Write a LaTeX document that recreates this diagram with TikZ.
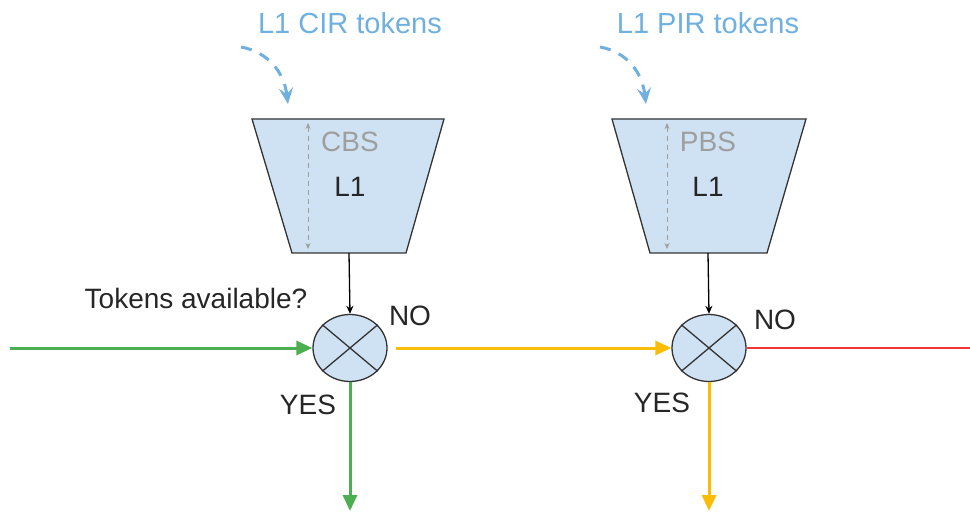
\documentclass[tikz,border=0pt]{standalone}
\usepackage{fontspec}
\setmainfont{Liberation Sans}
\usetikzlibrary{shapes.geometric,arrows.meta}
\definecolor{boxfill}{HTML}{CFE2F3}
\definecolor{tokblue}{HTML}{6FB0E0}
\definecolor{okgreen}{HTML}{4CAF50}
\definecolor{warnyel}{HTML}{FBBC04}
\definecolor{badred}{HTML}{F4333A}
\definecolor{bsgray}{HTML}{9E9E9E}
\tikzset{
  bucket/.style={draw=black!80, line width=1.3pt, fill=boxfill, line join=miter},
  meter/.style={ellipse, draw=black!80, line width=1.3pt, fill=boxfill, minimum width=74pt, minimum height=67pt, inner sep=0pt},
  lbl/.style={font=\fontsize{28}{32}\selectfont, text=black!85, inner sep=0pt},
  toklbl/.style={font=\fontsize{29}{33}\selectfont, text=tokblue, inner sep=0pt},
  bslbl/.style={font=\fontsize{28}{32}\selectfont, text=bsgray, inner sep=0pt},
  tokarrow/.style={draw=tokblue, line width=3pt, dash pattern=on 11pt off 9pt, -{Stealth[length=16pt,width=14pt,inset=6pt]}},
  bsarrow/.style={draw=bsgray, line width=1pt, dash pattern=on 5pt off 4pt, {Stealth[length=6pt,width=5pt]}-{Stealth[length=6pt,width=5pt]}},
  feed/.style={draw=black, line width=1.3pt, -{Stealth[length=8pt,width=7pt]}},
  flow/.style={line width=3pt, -{Triangle[length=16pt,width=14pt]}},
}
\begin{document}
\begin{tikzpicture}[x=1pt,y=-1pt]
\useasboundingbox (0,0) rectangle (970,513);
% bucket 1
\draw[bucket] (252,119) -- (444,119) -- (406,253) -- (292,253) -- cycle;
\coordinate (b1) at (349,253);
\coordinate (b1top) at (308,123);
\coordinate (b1bot) at (308,249);
\draw[bsarrow] (b1top) -- (b1bot);
\node[bslbl] (cbs) at (350,142) {CBS};
\node[lbl] (l1a) at (350,187) {L1};
% bucket 2
\draw[bucket] (612,119) -- (806,119) -- (767,253) -- (650,253) -- cycle;
\coordinate (b2) at (708,253);
\coordinate (b2top) at (667,123);
\coordinate (b2bot) at (667,249);
\draw[bsarrow] (b2top) -- (b2bot);
\node[bslbl] (pbs) at (708,142) {PBS};
\node[lbl] (l1b) at (708,187) {L1};
% token labels
\node[toklbl] (cir) at (350,23) {L1 CIR tokens};
\node[toklbl] (pir) at (708,23) {L1 PIR tokens};
\coordinate (cirs) at (241,47);
\coordinate (cire) at (288,104);
\coordinate (pirs) at (600,47);
\coordinate (pire) at (646,104);
\draw[tokarrow] (cirs) .. controls (268,52) and (284,72) .. (cire);
\draw[tokarrow] (pirs) .. controls (627,52) and (642,72) .. (pire);
% meters
\node[meter] (m1) at (350,348) {};
\node[meter] (m2) at (709,348) {};
\foreach \m in {m1,m2}{
  \draw[black!80, line width=1.3pt] (\m.40) -- (\m.220);
  \draw[black!80, line width=1.3pt] (\m.140) -- (\m.320);
}
\draw[feed] (b1) -- (m1.north);
\draw[feed] (b2) -- (m2.north);
% flows
\coordinate (in) at (10,348);
\coordinate (out1) at (350,511);
\coordinate (out2) at (709,511);
\coordinate (red) at (970,348);
\coordinate (m1r) at (396,348);
\draw[flow, draw=okgreen, fill=okgreen] (in) -- (m1.west);
\draw[flow, draw=okgreen, fill=okgreen] (m1.south) -- (out1);
\draw[flow, draw=warnyel, fill=warnyel] (m1r) -- (m2.west);
\draw[flow, draw=warnyel, fill=warnyel] (m2.south) -- (out2);
\draw[draw=badred, line width=2pt] (m2.east) -- (red);
% labels
\node[lbl] (q) at (196,298) {Tokens available?};
\node[lbl] (no1) at (410,316) {NO};
\node[lbl] (yes1) at (308,405) {YES};
\node[lbl] (no2) at (775,320) {NO};
\node[lbl] (yes2) at (662,403) {YES};
\end{tikzpicture}
\end{document}
